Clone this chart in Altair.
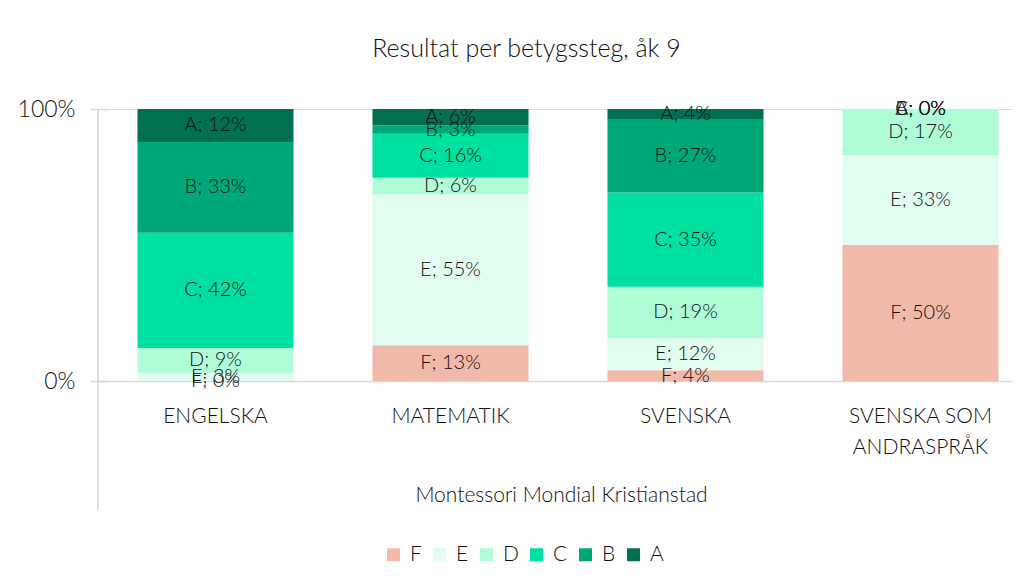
import altair as alt
import pandas as pd

subjects = ["ENGELSKA", "MATEMATIK", "SVENSKA", "SVENSKA SOM ANDRASPRÅK"]
grades = ["F", "E", "D", "C", "B", "A"]
colors = ["#F0B9A9", "#E0FDF0", "#B0FCD6", "#00E0A0", "#00A878", "#007050"]

F = [0, 13, 4, 50]
E = [3, 55, 12, 33]
D = [9, 6, 19, 17]
C = [42, 16, 35, 0]
B = [33, 3, 27, 0]
A = [12, 6, 4, 0]

series = {"F": F, "E": E, "D": D, "C": C, "B": B, "A": A}
rows = []
for gi, g in enumerate(grades):
    for s, v in zip(subjects, series[g]):
        rows.append({"subject": s, "grade": g, "gi": gi, "value": v})
df = pd.DataFrame(rows)

FONT = "Lato"
TXT = "#111111"
GRID = "#d9d9d9"
W = 300

base = alt.Chart(df).transform_stack(
    stack="value",
    groupby=["subject"],
    as_=["y0", "y1"],
    sort=[alt.SortField("gi", order="ascending")],
    offset="normalize",
).transform_calculate(
    ym="(datum.y0 + datum.y1) / 2",
    label="datum.grade + '; ' + datum.value + '%'",
)

xenc = alt.X(
    "subject:N",
    sort=subjects,
    scale=alt.Scale(range=[0, 940], paddingInner=0.336, paddingOuter=0.168),
    axis=alt.Axis(
        title="Montessori Mondial Kristianstad",
        labelAngle=0,
        ticks=False,
        domainColor=GRID,
        domainWidth=1.5,
        labelPadding=24,
        labelFontSize=21,
        labelFont=FONT,
        labelFontWeight=W,
        labelColor=TXT,
        labelLineHeight=31,
        labelBaseline="top",
        labelExpr="datum.label == 'SVENSKA SOM ANDRASPRÅK' ? ['SVENSKA SOM', 'ANDRASPRÅK'] : datum.label",
        titleFontSize=21,
        titleFont=FONT,
        titleFontWeight=W,
        titleColor=TXT,
        titleX=463,
        titleY=114,
        titleBaseline="middle",
    ),
)

yaxis = alt.Axis(
    values=[0, 1],
    format="%",
    domain=False,
    grid=False,
    tickSize=17,
    tickColor=GRID,
    tickWidth=1.5,
    offset=-9,
    labelPadding=15,
    labelFontSize=23,
    labelFont=FONT,
    labelFontWeight=W,
    labelColor=TXT,
    title=None,
)
yscale = alt.Scale(domain=[0, 1], nice=False)

bars = base.mark_bar().encode(
    x=xenc,
    y=alt.Y("y0:Q", scale=yscale, axis=yaxis),
    y2="y1:Q",
    color=alt.Color(
        "grade:N",
        sort=grades,
        scale=alt.Scale(domain=grades, range=colors),
        legend=alt.Legend(
            orient="none",
            legendX=285,
            legendY=435,
            direction="horizontal",
            title=None,
            symbolType="square",
            symbolSize=169,
            symbolStrokeWidth=0,
            labelFontSize=21,
            labelFont=FONT,
            labelFontWeight=W,
            labelColor=TXT,
            labelOffset=6,
            columnPadding=7,
        ),
    ),
)

text = base.mark_text(fontSize=20, font=FONT, fontWeight=W, color=TXT, baseline="middle").encode(
    x=xenc,
    y=alt.Y("ym:Q", scale=yscale, axis=yaxis),
    text="label:N",
)

vline = alt.Chart(pd.DataFrame({"a": [0]})).mark_rule(color=GRID, strokeWidth=1.5).encode(
    x=alt.value(0), y=alt.value(0), y2=alt.value(401)
)

chart = alt.layer(vline, bars, text).properties(
    width=915,
    height=272,
    padding={"left": 90, "top": 101, "right": 0, "bottom": 185},
    autosize=alt.AutoSizeParams(type="none"),
    title=alt.TitleParams(
        text="Resultat per betygssteg, åk 9",
        fontSize=25,
        font=FONT,
        fontWeight=W,
        color=TXT,
        anchor="middle",
        baseline="bottom",
        dx=-29,
        offset=11,
    ),
).configure_view(strokeWidth=0).configure(background="white")

chart.save("out.html", embed_options={"renderer": "svg", "actions": False})
